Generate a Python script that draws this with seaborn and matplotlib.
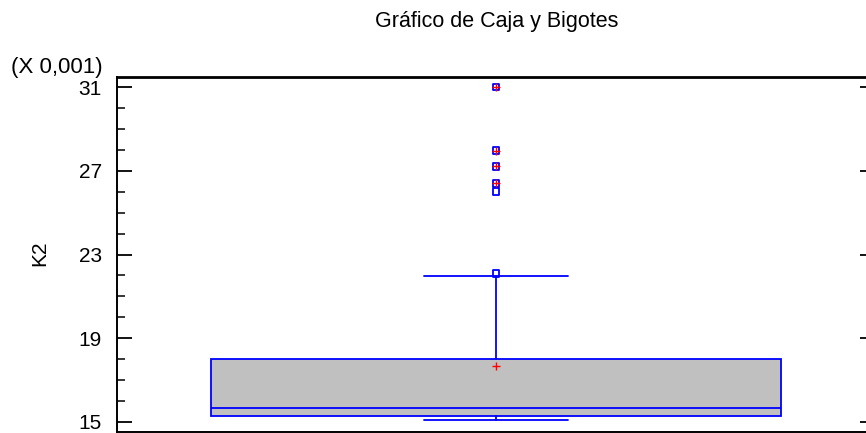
import matplotlib
matplotlib.use("Agg")
import matplotlib.pyplot as plt
import seaborn as sns
import pandas as pd
from matplotlib.ticker import MultipleLocator

# valores (en unidades de 0,001)
variable = "K2"
q1, mediana, q3 = 15.30, 15.69, 18.00
bigote_inf, bigote_sup = 15.07, 21.97
media = 17.69
atipicos = [31.00, 27.96, 27.21, 26.40, 26.02, 22.10]
atipicos_lejanos = [31.00, 27.96, 27.21, 26.40]
ticks_y = [15, 19, 23, 27, 31]

sns.set_style("white")
plt.rcParams['font.family'] = ['Liberation Sans', 'DejaVu Sans']

fig = plt.figure(figsize=(8.66, 4.33), dpi=100)
ax = fig.add_axes([117 / 866, 1 / 433, 758 / 866, 355 / 433])

azul = "#0000FF"
stats = [{"med": mediana, "q1": q1, "q3": q3, "whislo": bigote_inf,
          "whishi": bigote_sup, "fliers": [], "label": ""}]
ax.bxp(stats, positions=[0], widths=0.753, capwidths=0.189, patch_artist=True,
       showfliers=False, showmeans=False,
       boxprops=dict(facecolor="#C0C0C0", edgecolor=azul, linewidth=1.3),
       medianprops=dict(color=azul, linewidth=1.3),
       whiskerprops=dict(color=azul, linewidth=1.3),
       capprops=dict(color=azul, linewidth=1.3))

# atípicos (cuadrados) y atípicos lejanos (cruz roja)
df_at = pd.DataFrame({"x": [0] * len(atipicos), "y": atipicos})
df_lej = pd.DataFrame({"x": [0] * len(atipicos_lejanos), "y": atipicos_lejanos})
sns.scatterplot(data=df_at, x="x", y="y", marker="s", s=24, facecolor="none",
                edgecolor=azul, linewidth=1.3, ax=ax, zorder=4)
sns.scatterplot(data=df_lej, x="x", y="y", marker="+", s=32, color="red",
                linewidth=1.0, ax=ax, zorder=5)
# media
sns.scatterplot(x=[0], y=[media], marker="+", s=32, color="red",
                linewidth=1.0, ax=ax, zorder=5)

ax.set_xlim(-0.5, 0.5)
ax.set_ylim(14.52, 31.48)
ax.set_yticks(ticks_y)
ax.set_yticklabels([str(t) for t in ticks_y])
ax.yaxis.set_minor_locator(MultipleLocator(1))
ax.set_xticks([])
ax.set_xlabel("")
ax.set_ylabel("")
ax.tick_params(axis="y", which="major", direction="in", length=11, width=1.3,
               left=True, right=True, labelsize=15, pad=11, colors="black")
ax.tick_params(axis="y", which="minor", direction="in", length=5.5, width=1.3,
               left=True, right=True)
for s in ax.spines.values():
    s.set_color("black")
    s.set_linewidth(1.4)
ax.spines["top"].set_linewidth(2)

fig.text(497 / 866, 1 - 21 / 433, "Gráfico de Caja y Bigotes", ha="center", va="center",
         fontsize=15.5, color="black")
fig.text(103 / 866, 1 - 68 / 433, "(X 0,001)", ha="right", va="center",
         fontsize=16, color="black")
fig.text(40 / 866, 1 - 253 / 433, variable, ha="center", va="center", rotation=90,
         fontsize=15, color="black")

fig.savefig("out.png", dpi=100)
